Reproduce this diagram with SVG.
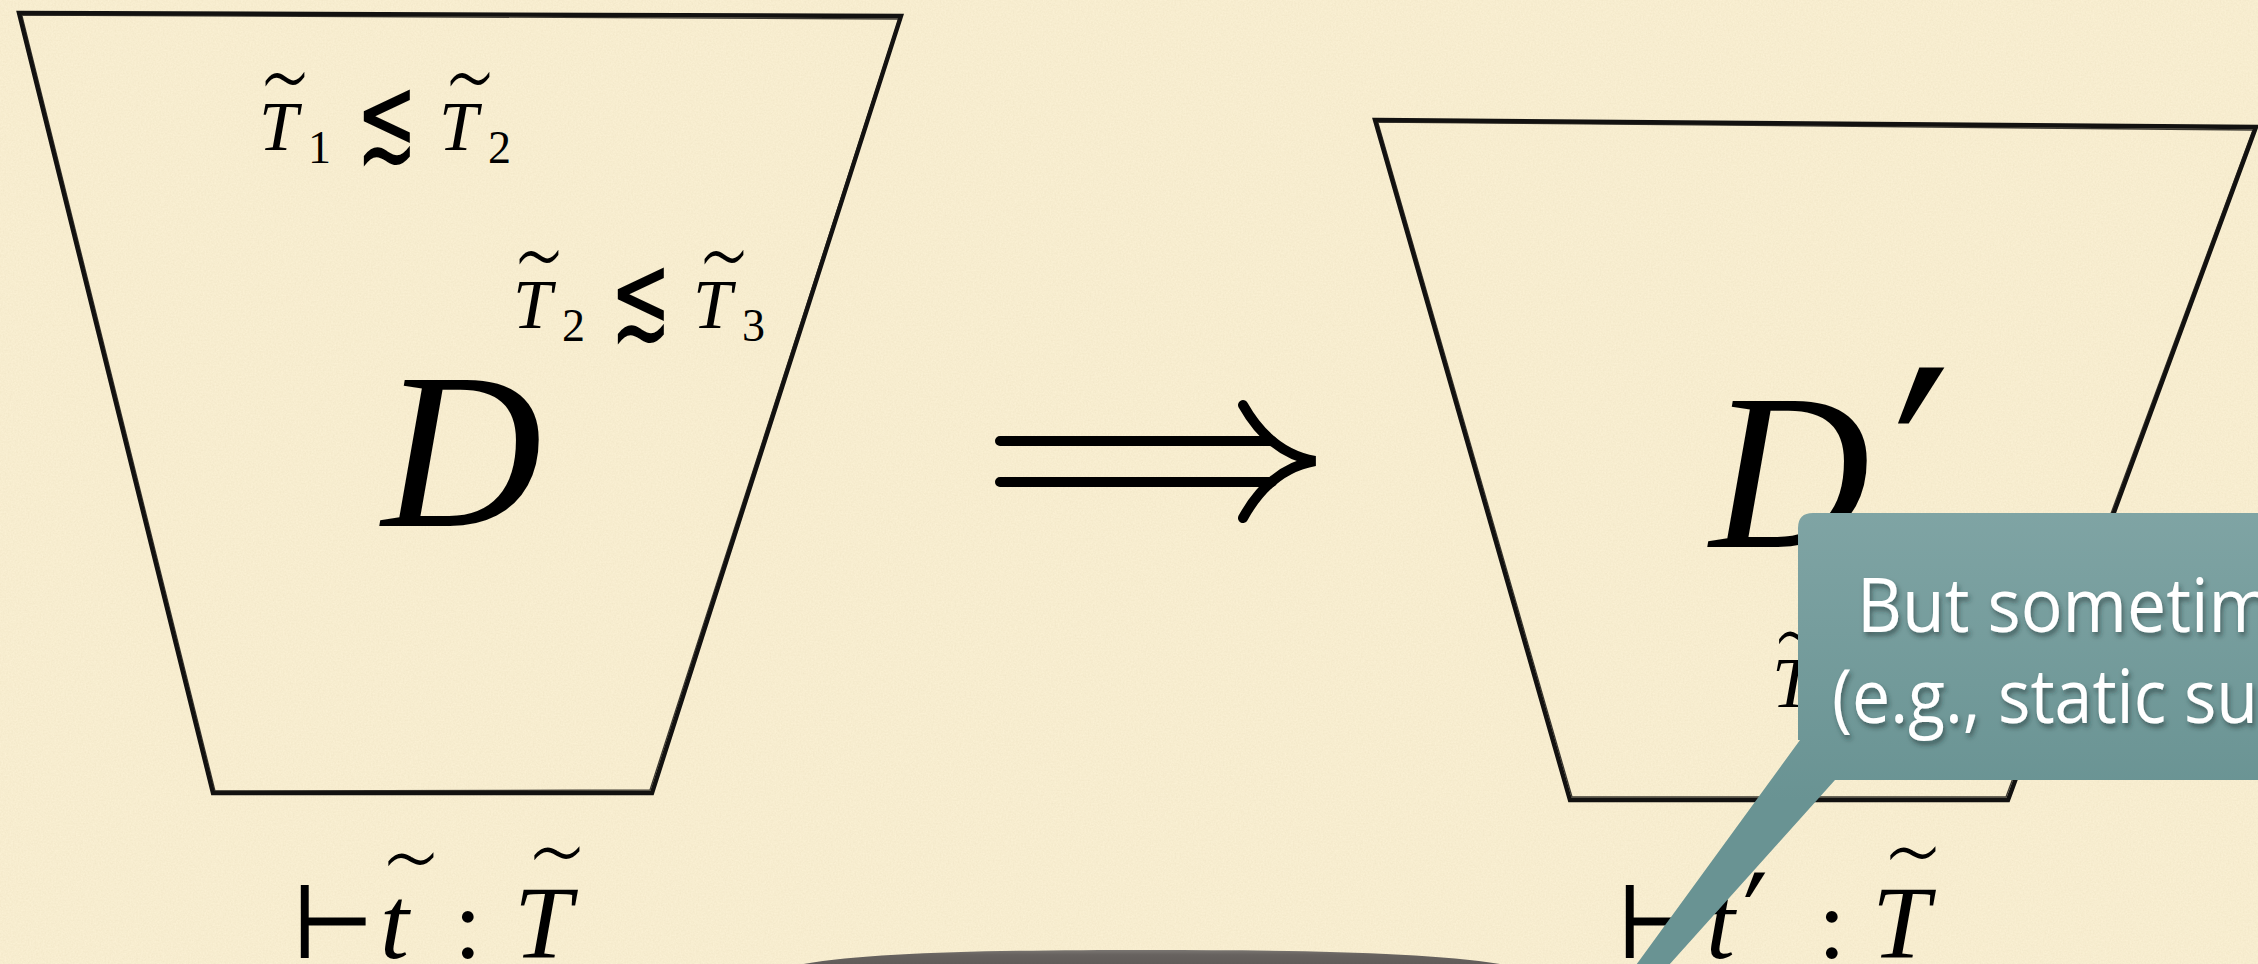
<svg xmlns="http://www.w3.org/2000/svg" width="2258" height="964" viewBox="0 0 2258 964">
<defs>
<style>
.mi{font-family:"Liberation Serif","DejaVu Serif",serif;font-style:italic;fill:#000}
.mn{font-family:"Liberation Serif","DejaVu Serif",serif;fill:#000}
.sym{font-family:"DejaVu Serif","DejaVu Sans",serif;fill:#000}
.rel{font-family:"DejaVu Sans","DejaVu Serif",sans-serif;fill:#000}
.til{font-family:"DejaVu Sans","Liberation Serif",sans-serif;font-weight:200;fill:#000;text-anchor:middle}
.trap{fill:none;stroke:#121110;stroke-width:4.4;stroke-linejoin:miter}
.sketch{fill:none;stroke:#1a1714;stroke-width:1.3;opacity:0.85}
.callout-text{font-family:"Open Sans","Lato","Liberation Sans",sans-serif;font-weight:500;fill:#ffffff;font-size:75px}
</style>
<filter id="paper" x="0" y="0" width="100%" height="100%">
<feTurbulence type="fractalNoise" baseFrequency="0.6" numOctaves="3" seed="4" result="n"/>
<feColorMatrix in="n" type="matrix" values="0 0 0 0 0.6  0 0 0 0 0.5  0 0 0 0 0.3  0 0 0 0.45 -0.1"/>
</filter>
<filter id="tshadow" x="-10%" y="-30%" width="120%" height="160%">
<feDropShadow dx="2" dy="4" stdDeviation="2.5" flood-color="#1f3333" flood-opacity="0.55"/>
</filter>
<linearGradient id="teal" gradientUnits="userSpaceOnUse" x1="0" y1="513" x2="0" y2="800">
<stop offset="0" stop-color="#7fa4a4"/>
<stop offset="1" stop-color="#699393"/>
</linearGradient>
<linearGradient id="grey" x1="0" y1="0" x2="0" y2="1">
<stop offset="0" stop-color="#7a7672"/>
<stop offset="0.3" stop-color="#67625f"/>
<stop offset="1" stop-color="#605b58"/>
</linearGradient>
</defs>

<rect width="2258" height="964" fill="#faf0d3"/>
<rect width="2258" height="964" filter="url(#paper)" opacity="0.5"/>

<g id="derivation-D">
<polygon class="trap" points="19,13 901,16 652,793 213,793"/>
<polyline class="sketch" points="21,15 899,19 650,790 215,791 22,16"/>
<g id="rel-T1-T2">
<text class="til" font-size="62" transform="translate(285,115) scale(1,1.8)">~</text>
<text class="mi" x="259" y="150" font-size="70">T</text>
<text class="mn" x="308" y="163" font-size="46">1</text>
<text class="rel" x="0" y="0" font-size="108" transform="translate(356,160) scale(0.68,1.12)">≲</text>
<text class="til" font-size="62" transform="translate(470,115) scale(1,1.8)">~</text>
<text class="mi" x="439" y="150" font-size="70">T</text>
<text class="mn" x="488" y="163" font-size="46">2</text>
</g>
<g id="rel-T2-T3" transform="translate(254,178)">
<text class="til" font-size="62" transform="translate(285,115) scale(1,1.8)">~</text>
<text class="mi" x="259" y="150" font-size="70">T</text>
<text class="mn" x="308" y="163" font-size="46">2</text>
<text class="rel" x="0" y="0" font-size="108" transform="translate(356,160) scale(0.68,1.12)">≲</text>
<text class="til" font-size="62" transform="translate(470,115) scale(1,1.8)">~</text>
<text class="mi" x="439" y="150" font-size="70">T</text>
<text class="mn" x="488" y="163" font-size="46">3</text>
</g>
<text class="mi" x="462" y="526" font-size="222" text-anchor="middle">D</text>
</g>

<g id="judgement-left">
<text class="sym" x="290" y="958" font-size="100">⊢</text>
<text class="til" font-size="72" transform="translate(411,894) scale(1,1.5)">~</text>
<text class="mi" x="380" y="958" font-size="104">t</text>
<text class="mn" x="454" y="958" font-size="100">:</text>
<text class="til" font-size="72" transform="translate(557,888) scale(1,1.5)">~</text>
<text class="mi" x="514" y="958" font-size="104">T</text>
</g>

<g id="connectors">
<path d="M1000,441 H1272 M1000,482 H1272" stroke="#000" stroke-width="10" stroke-linecap="round" fill="none"/>
<path d="M1243,405 Q1270,453 1315,461 Q1270,469 1243,518" stroke="#000" stroke-width="10" stroke-linecap="round" stroke-linejoin="miter" fill="none"/>
</g>

<g id="derivation-D-prime">
<polygon class="trap" points="1375,120 2256,127 2008,800 1570,800"/>
<polyline class="sketch" points="1377,122 2253,130 2006,797 1572,797 1378,123"/>
<text class="mi" x="1790" y="547" font-size="222" text-anchor="middle">D</text>
<text class="sym" x="0" y="0" font-size="220" transform="translate(1893,592) scale(1.15,1.4)">′</text>
<text class="til" font-size="60" transform="translate(1798,672) scale(1,1.8)">~</text>
<text class="mi" x="1772" y="707" font-size="72">T</text>
</g>

<g id="judgement-right">
<text class="sym" x="1615" y="958" font-size="100">⊢</text>
<text class="til" font-size="72" transform="translate(1737,894) scale(1,1.5)">~</text>
<text class="mi" x="1706" y="958" font-size="104">t</text>
<text class="sym" x="0" y="0" font-size="100" transform="translate(1743,971) scale(1.1,1.35)">′</text>
<text class="mn" x="1818" y="958" font-size="100">:</text>
<text class="til" font-size="72" transform="translate(1913,888) scale(1,1.5)">~</text>
<text class="mi" x="1872" y="958" font-size="104">T</text>
</g>

<g id="grey-shape">
<path d="M793,966 C860,952 1000,950 1150,950 C1300,950 1440,952 1511,966 Z" fill="url(#grey)"/>
</g>

<g id="callout">
<path d="M1813,513 H2270 V780 H1835 L1494,1160 L1800,740 H1798 V528 Q1798,513 1813,513 Z" fill="url(#teal)"/>
<g filter="url(#tshadow)">
<text class="callout-text" x="1857" y="632" textLength="416" lengthAdjust="spacingAndGlyphs">But sometim</text>
<text class="callout-text" x="1832" y="723" textLength="426" lengthAdjust="spacingAndGlyphs">(e.g., static su</text>
</g>
</g>
</svg>
